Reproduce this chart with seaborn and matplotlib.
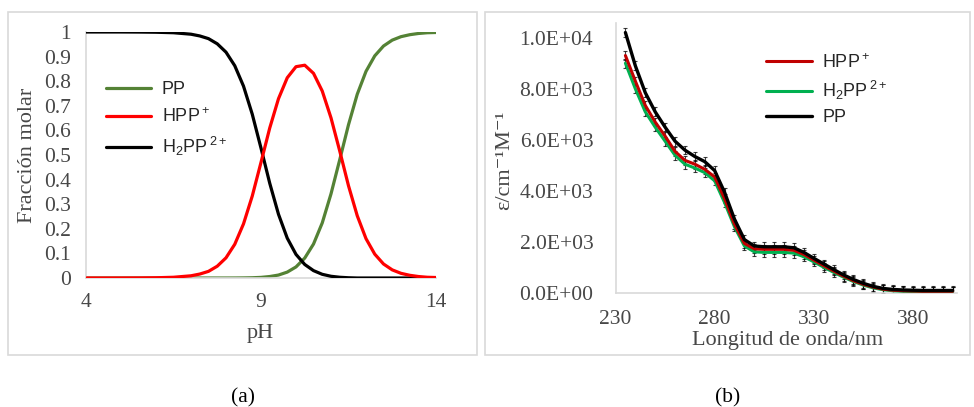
import matplotlib
matplotlib.use("Agg")
import matplotlib.pyplot as plt
import seaborn as sns
from matplotlib.patches import Rectangle
from matplotlib.ticker import FuncFormatter

sns.set_style("white")
plt.rcParams['font.family'] = ['Liberation Serif', 'DejaVu Serif']
plt.rcParams['mathtext.fontset'] = 'custom'
plt.rcParams['mathtext.rm'] = 'Liberation Sans'
plt.rcParams['mathtext.it'] = 'Liberation Sans:italic'

# ---------------------
# Data (a): speciation vs pH
# ---------------------
ph = [4.0, 4.5, 5.0, 5.5, 6.0, 6.5, 7.0, 7.25, 7.5, 7.75, 8.0, 8.25, 8.5, 8.75,
      9.0, 9.25, 9.5, 9.75, 10.0, 10.25, 10.5, 10.75, 11.0, 11.25, 11.5, 11.75,
      12.0, 12.25, 12.5, 12.75, 13.0, 13.25, 13.5, 13.75, 14.0]
frac_pp = [0, 0, 0, 0, 0, 0, 0, 0, 0, 0, 0, 0.0001, 0.0004, 0.001,
           0.0025, 0.006, 0.012, 0.024, 0.045, 0.081, 0.138, 0.224, 0.342, 0.481, 0.623, 0.747,
           0.840, 0.903, 0.943, 0.967, 0.981, 0.989, 0.994, 0.997, 0.998]
frac_hpp = [0, 0, 0.0001, 0.0003, 0.001, 0.003, 0.009, 0.016, 0.027, 0.048, 0.082, 0.137, 0.220, 0.333,
            0.470, 0.610, 0.729, 0.814, 0.859, 0.865, 0.832, 0.760, 0.651, 0.516, 0.375, 0.253,
            0.160, 0.097, 0.057, 0.033, 0.019, 0.011, 0.006, 0.003, 0.002]
frac_h2pp = [1, 1, 1, 0.9997, 0.999, 0.997, 0.991, 0.984, 0.973, 0.952, 0.918, 0.863, 0.780, 0.666,
             0.528, 0.385, 0.259, 0.162, 0.096, 0.055, 0.030, 0.015, 0.007, 0.003, 0.001, 0,
             0, 0, 0, 0, 0, 0, 0, 0, 0]

# ---------------------
# Data (b): molar absorptivity spectra
# ---------------------
wl = [235, 240, 245, 250, 255, 260, 265, 270, 275, 280, 285, 290, 295, 300, 305, 310, 315,
      320, 325, 330, 335, 340, 345, 350, 355, 360, 365, 370, 375, 380, 385, 390, 395, 400]
eps_pp = [10200, 8900, 7850, 7100, 6500, 5950, 5600, 5350, 5150, 4800, 3950, 2900, 2100, 1850,
          1820, 1820, 1820, 1780, 1600, 1370, 1150, 930, 720, 540, 390, 270, 190, 150, 130,
          120, 110, 110, 110, 110]
eps_hpp = [9300, 8300, 7350, 6700, 6150, 5550, 5200, 5050, 4850, 4550, 3700, 2700, 1950, 1740,
           1720, 1720, 1720, 1680, 1520, 1300, 1080, 870, 670, 490, 350, 240, 160, 120, 100,
           90, 80, 80, 80, 80]
eps_h2pp = [9000, 8000, 7100, 6500, 5950, 5400, 5050, 4900, 4720, 4400, 3550, 2600, 1850, 1620,
            1600, 1600, 1600, 1570, 1430, 1230, 1020, 820, 630, 460, 320, 210, 140, 100, 80,
            70, 70, 70, 70, 70]
eps_err = 170

lab_pp = 'PP'
lab_hpp = r'HPP$\,^{+}$'
lab_h2pp = r'H$_{2}$PP$\,^{2+}$'

txt = '#474747'
frame = '#d9d9d9'
tick_fs = 15.5
label_fs = 16
leg_fs = 13

fig = plt.figure(figsize=(9.74, 4.07), dpi=100)
W, H = 974, 407


def px_axes(x0, y0, x1, y1):
    return fig.add_axes([x0 / W, 1 - y1 / H, (x1 - x0) / W, (y1 - y0) / H])


# panel frames
for (x0, y0, x1, y1) in [(8, 12, 477, 355), (485, 12, 970, 355)]:
    fig.patches.append(Rectangle((x0 / W, 1 - y1 / H), (x1 - x0) / W, (y1 - y0) / H,
                                 transform=fig.transFigure, fill=False,
                                 edgecolor=frame, linewidth=1.2))

# ---------------------
# Panel (a)
# ---------------------
ax1 = px_axes(86, 32, 436, 278)
sns.lineplot(x=ph, y=frac_pp, ax=ax1, color='#548235', lw=2.3, label=lab_pp, zorder=2)
sns.lineplot(x=ph, y=frac_h2pp, ax=ax1, color='black', lw=2.3, label=lab_h2pp, zorder=3)
sns.lineplot(x=ph, y=frac_hpp, ax=ax1, color='#ff0000', lw=2.3, label=lab_hpp, zorder=4)
ax1.set_xlim(4, 14)
ax1.set_ylim(0, 1)
ax1.set_xticks([4, 9, 14])
ax1.set_yticks([i / 10 for i in range(11)])
ax1.set_yticklabels(['0', '0.1', '0.2', '0.3', '0.4', '0.5', '0.6', '0.7', '0.8', '0.9', '1'])
ax1.set_xlabel('pH', fontsize=label_fs, color=txt, va='center')
ax1.xaxis.set_label_coords(0.497, -0.224)
ax1.set_ylabel('Fracción molar', fontsize=label_fs, color=txt, va='center')
ax1.yaxis.set_label_coords(-0.168, 0.5)
ax1.tick_params(axis='both', length=0, labelsize=tick_fs, labelcolor=txt)
ax1.tick_params(axis='y', pad=11)
ax1.tick_params(axis='x', pad=11)
h, l = ax1.get_legend_handles_labels()
order = [l.index(lab_pp), l.index(lab_hpp), l.index(lab_h2pp)]
ax1.legend([h[i] for i in order], [l[i] for i in order], loc='upper left',
           bbox_to_anchor=(0.01, 0.865), frameon=False, handlelength=2.5,
           prop={'family': 'Liberation Sans', 'size': leg_fs}, labelspacing=0.5,
           handletextpad=0.6)

# ---------------------
# Panel (b)
# ---------------------
ax2 = px_axes(615.5, 23.3, 956.6, 293.3)
for y in (eps_h2pp, eps_hpp, eps_pp):
    ax2.errorbar(wl, y, yerr=eps_err, fmt='none', ecolor='black', elinewidth=0.8,
                 capsize=1.6, capthick=0.8, alpha=0.75, zorder=1)
sns.lineplot(x=wl, y=eps_h2pp, ax=ax2, color='#00b050', lw=2.2, label=lab_h2pp, zorder=3)
sns.lineplot(x=wl, y=eps_hpp, ax=ax2, color='#c00000', lw=2.2, label=lab_hpp, zorder=4)
sns.lineplot(x=wl, y=eps_pp, ax=ax2, color='black', lw=2.4, label=lab_pp, zorder=5)
ax2.set_xlim(230, 402)
ax2.set_ylim(0, 10560)
ax2.set_xticks([230, 280, 330, 380])
ax2.set_yticks([0, 2000, 4000, 6000, 8000, 10000])
ax2.yaxis.set_major_formatter(FuncFormatter(lambda v, p: f"{v:.1E}"))
ax2.set_xlabel('Longitud de onda/nm', fontsize=label_fs, color=txt, va='center')
ax2.xaxis.set_label_coords(0.503, -0.173)
ax2.set_ylabel('ε/cm⁻¹M⁻¹', fontsize=label_fs, color=txt, va='center')
ax2.yaxis.set_label_coords(-0.324, 0.494)
ax2.tick_params(axis='both', length=0, labelsize=tick_fs, labelcolor=txt)
ax2.tick_params(axis='y', pad=16)
ax2.tick_params(axis='x', pad=12)
h, l = ax2.get_legend_handles_labels()
order = [l.index(lab_hpp), l.index(lab_h2pp), l.index(lab_pp)]
ax2.legend([h[i] for i in order], [l[i] for i in order], loc='upper left',
           bbox_to_anchor=(0.395, 0.95), frameon=False, handlelength=2.5,
           prop={'family': 'Liberation Sans', 'size': leg_fs}, labelspacing=0.4,
           handletextpad=0.6)

for ax in (ax1, ax2):
    ax.set_facecolor('white')
    for s in ('top', 'right'):
        ax.spines[s].set_visible(False)
    for s in ('left', 'bottom'):
        ax.spines[s].set_color(frame)
        ax.spines[s].set_linewidth(1.2)

fig.text(243 / W, 1 - 398 / H, '(a)', ha='center', va='center', fontsize=15.5, color='black')
fig.text(728 / W, 1 - 398 / H, '(b)', ha='center', va='center', fontsize=15.5, color='black')

fig.savefig('out.png', dpi=100, facecolor='white')
